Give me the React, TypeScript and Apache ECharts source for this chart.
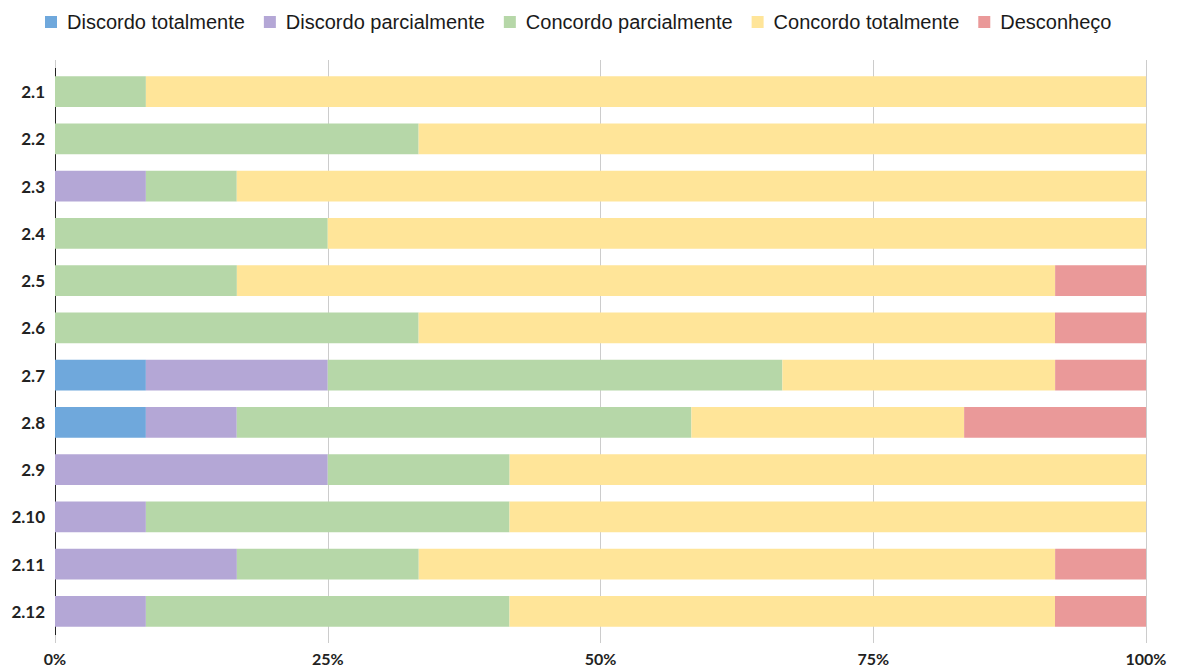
import React, { useEffect, useRef } from "react";
import * as echarts from "echarts";

const categories = ["2.1", "2.2", "2.3", "2.4", "2.5", "2.6", "2.7", "2.8", "2.9", "2.10", "2.11", "2.12"];
const seriesNames = ["Discordo totalmente", "Discordo parcialmente", "Concordo parcialmente", "Concordo totalmente", "Desconheço"];
const discordoTotalmente = [0, 0, 0, 0, 0, 0, 8.33, 8.33, 0, 0, 0, 0];
const discordoParcialmente = [0, 0, 8.33, 0, 0, 0, 16.67, 8.33, 25, 8.33, 16.67, 8.33];
const concordoParcialmente = [8.33, 33.33, 8.33, 25, 16.67, 33.33, 41.67, 41.67, 16.67, 33.33, 16.67, 33.33];
const concordoTotalmente = [91.67, 66.67, 83.34, 75, 75, 58.33, 25, 25, 58.33, 58.34, 58.33, 50];
const desconheco = [0, 0, 0, 0, 8.33, 8.34, 8.33, 16.67, 0, 0, 8.33, 8.34];
const colors = ["#6fa8dc", "#b4a7d6", "#b6d7a8", "#ffe599", "#ea9999"];

export default function App() {
  const ref = useRef<HTMLDivElement>(null);
  useEffect(() => {
    document.body.style.margin = "0";
    const chart = echarts.init(ref.current!, null, { renderer: "svg" });
    const values = [discordoTotalmente, discordoParcialmente, concordoParcialmente, concordoTotalmente, desconheco];
    chart.setOption({
      animation: false,
      color: colors,
      legend: {
        top: 7,
        left: 40,
        itemWidth: 12,
        itemHeight: 12,
        itemGap: 19,
        icon: "rect",
        textStyle: { fontFamily: "Liberation Sans", fontSize: 20, color: "#1a1a1a", padding: [0, 0, 0, 5] },
        data: seriesNames,
      },
      grid: { left: 55, right: 33, top: 68, bottom: 35, containLabel: false },
      xAxis: [
        {
          type: "value",
          min: 0,
          max: 100,
          interval: 25,
          axisLine: { show: false },
          axisTick: { show: true, length: 8, lineStyle: { color: "#cccccc" } },
          splitLine: { show: true, lineStyle: { color: "#cccccc", width: 1 } },
          axisLabel: {
            formatter: "{value}%",
            fontFamily: "Lato",
            fontWeight: "bold",
            fontSize: 16,
            color: "#222",
            margin: 15,
          },
        },
        {
          type: "value",
          position: "top",
          min: 0,
          max: 100,
          interval: 25,
          axisLine: { show: false },
          axisTick: { show: true, length: 8, lineStyle: { color: "#cccccc" } },
          splitLine: { show: false },
          axisLabel: { show: false },
        },
      ],
      yAxis: {
        type: "category",
        data: categories,
        inverse: true,
        axisLine: { show: true, lineStyle: { color: "#222", width: 1 } },
        axisTick: { show: false },
        axisLabel: {
          fontFamily: "Lato",
          fontWeight: "bold",
          fontSize: 17,
          color: "#222",
          margin: 10,
        },
      },
      series: seriesNames.map((name, i) => ({
        name,
        type: "bar",
        stack: "total",
        barCategoryGap: "35%",
        data: values[i],
        itemStyle: { color: colors[i] },
      })),
    });
    return () => chart.dispose();
  }, []);
  return <div ref={ref} style={{ width: 1179, height: 670 }} />;
}
